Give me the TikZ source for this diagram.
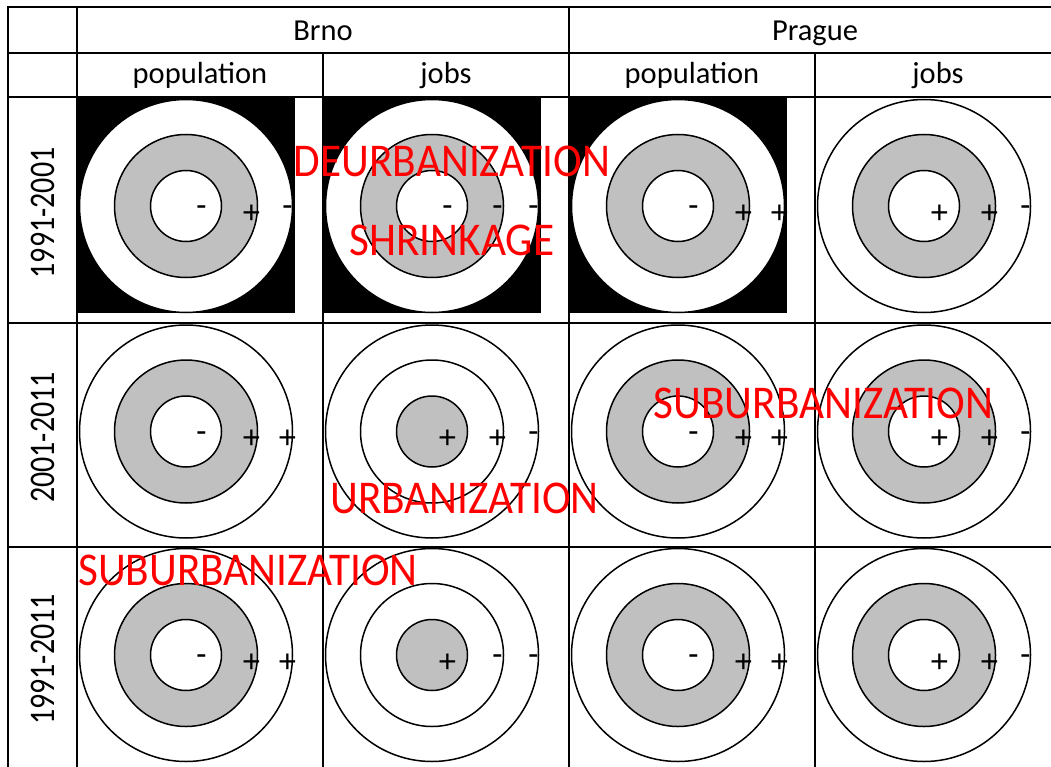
\documentclass[tikz,border=0pt]{standalone}
\usepackage{fontspec}
\setmainfont{Carlito}
\newfontfamily\signfont{Liberation Sans}
\newfontfamily\labelfont[FakeStretch=0.92]{Carlito}
\usepackage{xcolor}

\definecolor{ringgray}{RGB}{192,192,192}

\tikzset{
  rule/.style={line width=2.6pt},
  ring/.style={line width=1.5pt},
  head/.style={font=\fontsize{30.5}{36}\selectfont, anchor=base, inner sep=0pt},
  period/.style={font=\fontsize{30}{36}\selectfont, rotate=90, inner sep=0pt},
  plussign/.style={font=\signfont\fontsize{32}{36}\selectfont, inner sep=0pt, anchor=base, yshift=-17.3pt},
  minussign/.style={font=\signfont\fontsize{32}{36}\selectfont, inner sep=0pt, anchor=base, yshift=-9.7pt},
  process/.style={font=\labelfont\fontsize{47}{50}\selectfont, text=red, anchor=base, inner sep=0pt}
}

% one sign on the horizontal radius: #1 name, #2 x, #3 p or m
\newcommand{\sign}[3]{%
  \if#3p\node[plussign] (#1) at (#2,0) {+};\else\node[minussign] (#1) at (#2,0) {-};\fi}

% three rings: #1 inner fill, #2 middle fill, #3-#5 signs from the centre out
\newcommand{\target}[5]{%
  \draw[ring, fill=white] (0,0) circle (106.5pt);
  \draw[ring, fill=#2] (0,0) circle (71.5pt);
  \draw[ring, fill=#1] (0,0) circle (35.5pt);
  \sign{in}{15.5}{#3}
  \sign{mid}{65.5}{#4}
  \sign{out}{101.5}{#5}}

\begin{document}
\begin{tikzpicture}[x=1pt, y=-1pt]
        \useasboundingbox (0,0) rectangle (1051,767);
        \clip (0,0) rectangle (1051,767);

        % ----------------------------------------------------
        % 1991-2001
        % ----------------------------------------------------
        \begin{scope}[shift={(186,206)}, name prefix=bpop1-]
            \fill (-108,-108) rectangle (109,107);
            \target{white}{ringgray}{m}{p}{m}
        \end{scope}
        \begin{scope}[shift={(432,206)}, name prefix=bjob1-]
            \fill (-108,-108) rectangle (109,107);
            \target{white}{ringgray}{m}{m}{m}
        \end{scope}
        \begin{scope}[shift={(678,206)}, name prefix=ppop1-]
            \fill (-108,-108) rectangle (109,107);
            \target{white}{ringgray}{m}{p}{p}
        \end{scope}
        \begin{scope}[shift={(924,206)}, name prefix=pjob1-]
            \target{white}{ringgray}{p}{p}{m}
        \end{scope}

        % ----------------------------------------------------
        % 2001-2011
        % ----------------------------------------------------
        \begin{scope}[shift={(186,431.5)}, name prefix=bpop2-]
            \target{white}{ringgray}{m}{p}{p}
        \end{scope}
        \begin{scope}[shift={(432,431.5)}, name prefix=bjob2-]
            \target{ringgray}{white}{p}{p}{m}
        \end{scope}
        \begin{scope}[shift={(678,431.5)}, name prefix=ppop2-]
            \target{white}{ringgray}{m}{p}{p}
        \end{scope}
        \begin{scope}[shift={(924,431.5)}, name prefix=pjob2-]
            \target{white}{ringgray}{p}{p}{m}
        \end{scope}

        % ----------------------------------------------------
        % 1991-2011
        % ----------------------------------------------------
        \begin{scope}[shift={(186,655)}, name prefix=bpop3-]
            \target{white}{ringgray}{m}{p}{p}
        \end{scope}
        \begin{scope}[shift={(432,655)}, name prefix=bjob3-]
            \target{ringgray}{white}{p}{m}{m}
        \end{scope}
        \begin{scope}[shift={(678,655)}, name prefix=ppop3-]
            \target{white}{ringgray}{m}{p}{p}
        \end{scope}
        \begin{scope}[shift={(924,655)}, name prefix=pjob3-]
            \target{white}{ringgray}{p}{p}{m}
        \end{scope}

        % Table rules
        \draw[rule] (1051,7) -- (8,7) -- (8,767);
        \draw[rule] (77,7) -- (77,767);
        \draw[rule] (569,7) -- (569,767);
        \draw[rule] (323,53) -- (323,767);
        \draw[rule] (815,53) -- (815,767);
        \draw[rule] (8,53) -- (1051,53);
        \draw[rule] (8,97) -- (1051,97);
        \draw[rule] (8,323) -- (1051,323);
        \draw[rule] (8,547) -- (1051,547);

        % Headers
        \node[head] (brno) at (323,41) {Brno};
        \node[head] (prague) at (815,41) {Prague};
        \node[head] (bpop) at (200,84) {population};
        \node[head] (bjob) at (446,84) {jobs};
        \node[head] (ppop) at (692,84) {population};
        \node[head] (pjob) at (938,84) {jobs};

        \node[period] (per1) at (43,213) {\scalebox{1}[1.2]{1991-2001}};
        \node[period] (per2) at (43,437.5) {\scalebox{1}[1.2]{2001-2011}};
        \node[period] (per3) at (43,659.5) {\scalebox{1}[1.2]{1991-2011}};

        % Processes
        \node[process] (deurb) at (452,177) {DEURBANIZATION};
        \node[process] (shrink) at (452,255) {SHRINKAGE};
        \node[process] (suburbp) at (823.5,418) {SUBURBANIZATION};
        \node[process] (urbb) at (464.5,513) {URBANIZATION};
        \node[process] (suburbb) at (248,585) {SUBURBANIZATION};
\end{tikzpicture}
\end{document}
